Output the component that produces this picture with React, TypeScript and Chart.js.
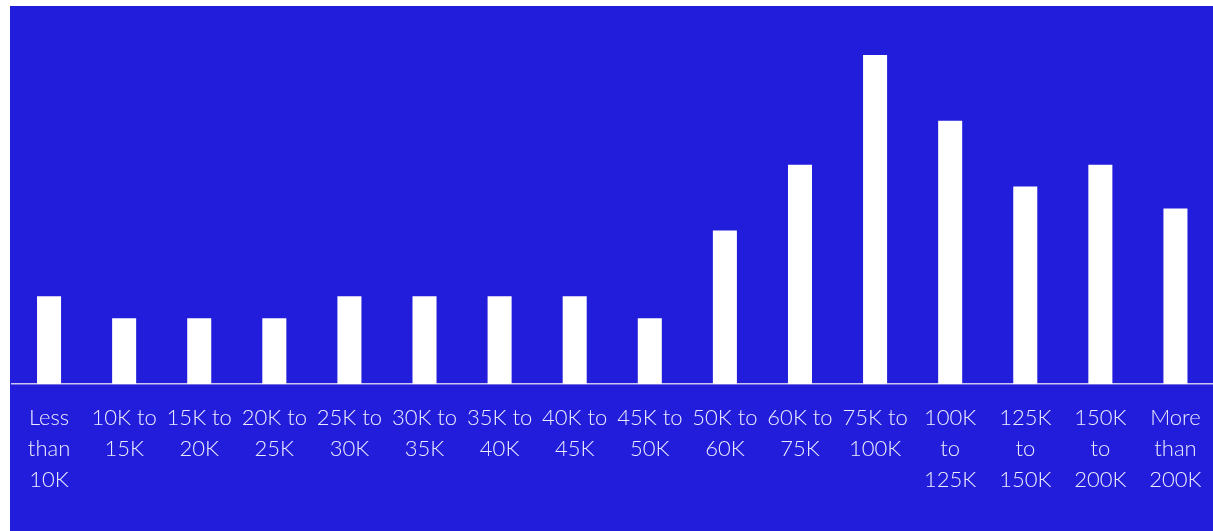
import React, { useEffect, useRef } from "react";
import { Chart, registerables } from "chart.js";

Chart.register(...registerables);

// Household income brackets (share of households, %)
const categories: string[][] = [
  ["Less", "than", "10K"],
  ["10K to", "15K"],
  ["15K to", "20K"],
  ["20K to", "25K"],
  ["25K to", "30K"],
  ["30K to", "35K"],
  ["35K to", "40K"],
  ["40K to", "45K"],
  ["45K to", "50K"],
  ["50K to", "60K"],
  ["60K to", "75K"],
  ["75K to", "100K"],
  ["100K", "to", "125K"],
  ["125K", "to", "150K"],
  ["150K", "to", "200K"],
  ["More", "than", "200K"],
];

const shares: number[] = [4, 3, 3, 3, 4, 4, 4, 4, 3, 7, 10, 15, 12, 9, 10, 8];

const BG = "#221DDA";

export default function App() {
  const canvasRef = useRef<HTMLCanvasElement | null>(null);

  useEffect(() => {
    const canvas = canvasRef.current;
    if (!canvas) return;
    const chart = new Chart(canvas, {
      type: "bar",
      data: {
        labels: categories,
        datasets: [
          {
            data: shares,
            backgroundColor: "#ffffff",
            borderWidth: 0,
            categoryPercentage: 1,
            barPercentage: 0.32,
          },
        ],
      },
      options: {
        animation: false,
        responsive: false,
        maintainAspectRatio: false,
        layout: { padding: { top: 27, left: 1.5, right: 0, bottom: 0 } },
        plugins: {
          legend: { display: false },
          tooltip: { enabled: false },
        },
        scales: {
          x: {
            grid: { display: false, drawTicks: true, tickLength: 18 },
            border: { display: true, color: "#c9c8f2", width: 1.5 },
            ticks: {
              color: "#ececff",
              padding: 0,
              maxRotation: 0,
              autoSkip: false,
              font: { family: "Lato, 'Open Sans', sans-serif", size: 22, weight: "300", lineHeight: "31px" },
            },
            afterFit: (scale: any) => {
              scale.height = 147;
            },
          },
          y: {
            display: false,
            min: 0,
            max: 16,
          },
        },
      },
    });
    return () => chart.destroy();
  }, []);

  return (
    <div
      style={{
        position: "absolute",
        left: 10,
        top: 6,
        width: 1203,
        height: 525,
        background: BG,
      }}
    >
      <canvas ref={canvasRef} width={1203} height={525} style={{ display: "block" }} />
    </div>
  );
}
